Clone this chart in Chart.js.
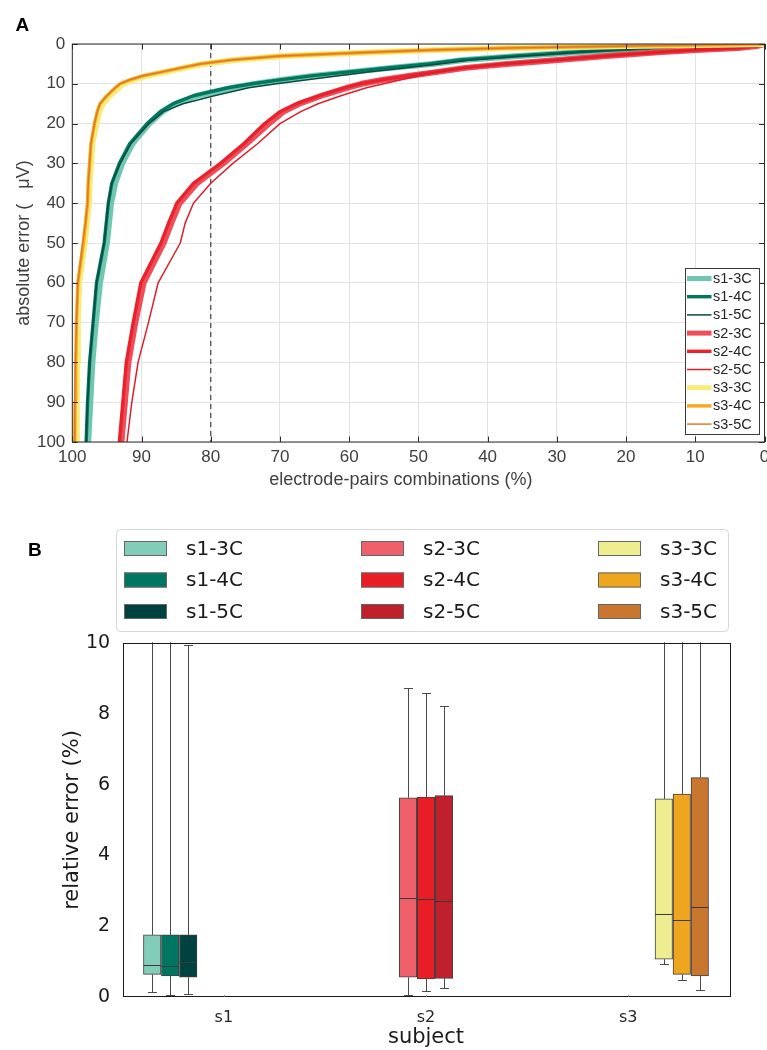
<!DOCTYPE html>
<html><head><meta charset="utf-8">
<script src="https://cdn.jsdelivr.net/npm/chart.js@4.4.0/dist/chart.umd.min.js"></script>
<style>
html,body{margin:0;padding:0;background:#fff;}
#wrap{position:relative;width:767px;height:1050px;overflow:hidden;}
.pane{position:absolute;left:0;}
</style></head><body>
<div id="wrap">
<div class="pane" style="top:0;width:767px;height:500px"><canvas id="ca" width="767" height="500"></canvas></div>
<div class="pane" style="top:500px;width:767px;height:550px"><canvas id="cb" width="767" height="550"></canvas></div>
</div>
<script>
// ---------------- DATA: panel A ----------------
// absolute error levels (µV) at which the % of electrode-pair combinations is read
const errorLevels = [100,90,80,70,60,50,45,40,35,30,25,20,17,15,13,11,10,9,8,7,6,5,4,3,2,1.5,1,0.5,0];
// electrode-pairs combinations (%) for each series at those error levels
const s1_3C = [97.7,97.4,97.1,96.6,96.0,95.0,94.7,94.4,93.8,92.8,91.3,88.9,87.0,85.1,82.0,76.8,73.5,69.5,65.0,59.5,54.0,48.0,43.5,35.5,26.5,21.5,15.5,8,0];
const s1_4C = [98.0,97.8,97.5,97.0,96.5,95.4,95.1,94.8,94.3,93.2,91.7,89.2,87.3,85.4,82.5,77.5,74.0,70.0,65.5,60.0,54.5,48.5,44.0,36.0,27.0,22.0,16.0,8,0];
const s1_5C = [98.0,97.8,97.5,97.0,96.5,95.4,95.1,94.8,94.3,93.1,91.5,88.9,86.8,84.0,79.5,74.5,70.5,66.0,61.5,57.0,52.0,47.0,42.5,35.0,26.5,21.5,15.5,8,0];
const s2_3C = [92.9,92.4,91.9,90.9,89.7,86.8,85.7,84.5,82.0,78.2,74.8,71.6,69.5,67.2,64.0,60.3,58.2,55.0,51.2,47.2,43.2,37.2,29.8,22.8,14.8,9.8,3.8,1,0];
const s2_4C = [93.2,92.7,92.2,91.2,90.1,87.2,86.1,84.9,82.5,78.6,75.2,72.2,70.0,67.6,64.3,60.7,58.5,55.3,51.5,47.5,43.5,37.5,30.0,23.0,15.0,10.0,4.0,1,0];
const s2_5C = [92.1,91.4,90.5,89.0,87.6,84.4,83.7,82.5,80.0,76.8,73.2,70.0,67.0,64.5,61.2,57.5,55.0,52.5,50.0,47.0,43.3,37.5,30.0,23.0,15.0,10.0,4.0,1,0];
const s3_3C = [99.4,99.35,99.3,99.2,99.0,98.2,97.9,97.6,97.5,97.3,97.1,96.5,96.1,95.6,94.6,93.3,92.6,91.2,89.3,86.5,83.8,81.0,76.5,69.5,55.5,47.5,36.5,19.5,0];
const s3_4C = [99.65,99.6,99.5,99.4,99.2,98.4,98.1,97.8,97.7,97.5,97.3,96.8,96.4,96.0,95.0,93.8,93.1,91.7,89.8,87.0,84.3,81.5,77.0,70.0,56.0,48.0,37.0,20.0,0];
const s3_5C = [99.7,99.65,99.55,99.4,99.2,98.5,98.1,97.8,97.7,97.5,97.3,96.8,96.4,96.0,95.0,93.8,93.1,91.7,89.8,87.0,84.3,81.5,77.0,70.0,56.0,48.0,37.0,20.0,0];
const seriesLabelsA = ['s1-3C','s1-4C','s1-5C','s2-3C','s2-4C','s2-5C','s3-3C','s3-4C','s3-5C'];
const seriesValuesA = [s1_3C,s1_4C,s1_5C,s2_3C,s2_4C,s2_5C,s3_3C,s3_4C,s3_5C];
const thresholdPct = 80;           // dashed reference line
const axisTicksA = [0,10,20,30,40,50,60,70,80,90,100];

// ---------------- DATA: panel B ----------------
const subjects = ['s1','s2','s3'];
const configs = ['3C','4C','5C'];
const s1_whiskerLow  = [0.12, 0.04, 0.08];
const s1_q1          = [0.63, 0.585, 0.55];
const s1_median      = [0.90, 0.88, 0.97];
const s1_q3          = [1.75, 1.75, 1.75];
const s1_whiskerHigh = [12.5, 12.5, 9.94];
const s2_whiskerLow  = [0.05, 0.17, 0.24];
const s2_q1          = [0.55, 0.50, 0.52];
const s2_median      = [2.78, 2.76, 2.72];
const s2_q3          = [5.63, 5.65, 5.69];
const s2_whiskerHigh = [8.73, 8.58, 8.22];
const s3_whiskerLow  = [0.93, 0.48, 0.18];
const s3_q1          = [1.06, 0.63, 0.585];
const s3_median      = [2.33, 2.16, 2.53];
const s3_q3          = [5.60, 5.73, 6.20];
const s3_whiskerHigh = [12.9, 13.0, 14.3];
const statsB = {
  s1: {lo: s1_whiskerLow, q1: s1_q1, med: s1_median, q3: s1_q3, hi: s1_whiskerHigh},
  s2: {lo: s2_whiskerLow, q1: s2_q1, med: s2_median, q3: s2_q3, hi: s2_whiskerHigh},
  s3: {lo: s3_whiskerLow, q1: s3_q1, med: s3_median, q3: s3_q3, hi: s3_whiskerHigh}
};

// ---------------- STYLE ----------------
const lineColorsA = ['#70c7b1','#00785f','#0c4a42','#ee4d5a','#e9222b','#dc1f2b','#f6ec78','#f7a81b','#e0792c'];
const lineWidthsA = [6,3.4,1.5,6,3.4,1.5,6,3.4,1.5];
const boxColorsB = ['#82cdb9','#007562','#00423f','#f0606a','#e81e27','#c0202c','#eeed8f','#eea520','#c9762f'];
// box-group placement on the subject axis (axis units)
const groupCenters = [0.735, 2.0, 3.265];
const boxStep = 0.089;

const FA = '"Liberation Sans", Arial, Helvetica, sans-serif';
const FB = '"DejaVu Sans", Verdana, sans-serif';

// ---------------- PANEL A ----------------
const frameA = {
  id: 'frameA',
  afterDatasetsDraw(chart) {
    const {ctx, chartArea: a, scales: {x, y}} = chart;
    ctx.save();
    ctx.strokeStyle = '#2b2b2b';
    ctx.lineWidth = 1;
    ctx.strokeRect(a.left, a.top, a.right - a.left, a.bottom - a.top);
    ctx.beginPath();
    const tl = 5.5;
    axisTicksA.forEach(v => {
      const px = Math.round(x.getPixelForValue(v)) + 0.5;
      ctx.moveTo(px, a.bottom); ctx.lineTo(px, a.bottom - tl);
      ctx.moveTo(px, a.top); ctx.lineTo(px, a.top + tl);
      const py = Math.round(y.getPixelForValue(v)) + 0.5;
      ctx.moveTo(a.left, py); ctx.lineTo(a.left + tl, py);
      ctx.moveTo(a.right, py); ctx.lineTo(a.right - tl, py);
    });
    ctx.stroke();
    ctx.restore();
  },
  afterDraw(chart) {
    const {ctx} = chart;
    ctx.save();
    // panel letter
    ctx.fillStyle = '#000';
    ctx.font = 'bold 19px ' + FA;
    ctx.textBaseline = 'alphabetic';
    ctx.fillText('A', 15.5, 31);
    // legend inside plot (bottom-right)
    const L = 685.5, T = 268.5, R = 759.5, B = 434.5;
    ctx.fillStyle = '#fff';
    ctx.fillRect(L, T, R - L, B - T);
    ctx.strokeStyle = '#3a3a3a';
    ctx.lineWidth = 1;
    ctx.strokeRect(L, T, R - L, B - T);
    ctx.font = '14.5px ' + FA;
    ctx.textBaseline = 'middle';
    let row = 0;
    chart.data.datasets.forEach(ds => {
      if (!ds.label) return;
      const yy = T + 10 + row * 18.2;
      ctx.strokeStyle = ds.borderColor;
      ctx.lineWidth = Math.min(ds.borderWidth, 5);
      ctx.beginPath(); ctx.moveTo(L + 1.5, yy); ctx.lineTo(L + 26, yy); ctx.stroke();
      ctx.fillStyle = '#262626';
      ctx.fillText(ds.label, L + 27.5, yy + 0.5);
      row++;
    });
    ctx.restore();
  }
};

const datasetsA = seriesLabelsA.map((lab, i) => ({
  label: lab,
  data: errorLevels.map((e, k) => ({x: seriesValuesA[i][k], y: e})),
  borderColor: lineColorsA[i],
  backgroundColor: lineColorsA[i],
  borderWidth: lineWidthsA[i],
  pointRadius: 0,
  tension: 0,
  borderJoinStyle: 'round',
  borderCapStyle: 'butt',
  order: 20 - i
}));
datasetsA.push({
  label: '',
  data: [{x: thresholdPct, y: 0}, {x: thresholdPct, y: 100}],
  borderColor: '#4d4d4d',
  borderWidth: 1.3,
  borderDash: [5, 4],
  pointRadius: 0,
  order: 30
});

new Chart(document.getElementById('ca'), {
  type: 'line',
  data: {datasets: datasetsA},
  options: {
    responsive: false, animation: false, devicePixelRatio: 1,
    layout: {padding: {top: 44, right: 2.5, left: 0, bottom: 0}},
    plugins: {legend: {display: false}, tooltip: {enabled: false}},
    scales: {
      x: {
        type: 'linear', reverse: true, min: 0, max: 100,
        afterBuildTicks: s => { s.ticks = axisTicksA.map(v => ({value: v})); },
        afterFit: s => { s.height = 58; },
        grid: {color: '#e3e3e3', lineWidth: 1, drawTicks: false},
        border: {display: false},
        ticks: {color: '#404040', font: {family: FA, size: 17}, padding: 5, maxRotation: 0, autoSkip: false},
        title: {display: true, text: 'electrode-pairs combinations (%)       ', color: '#404040',
                font: {family: FA, size: 18}, padding: {top: 0, bottom: 9}}
      },
      y: {
        type: 'linear', reverse: true, min: 0, max: 100,
        afterBuildTicks: s => { s.ticks = axisTicksA.map(v => ({value: v})); },
        afterFit: s => { s.width = 72.3; },
        grid: {color: '#e3e3e3', lineWidth: 1, drawTicks: false},
        border: {display: false},
        ticks: {color: '#404040', font: {family: FA, size: 17}, padding: 7},
        title: {display: true, text: 'absolute error (   \u03BCV)', color: '#404040',
                font: {family: FA, size: 18}, padding: {top: 13, bottom: 0}}
      }
    }
  },
  plugins: [frameA]
});

// ---------------- PANEL B ----------------
const boxDatasets = [];
subjects.forEach((s, si) => {
  configs.forEach((c, ci) => {
    const k = si * 3 + ci;
    boxDatasets.push({
      label: s + '-' + c,
      data: [{x: groupCenters[si] + (ci - 1) * boxStep, y: [statsB[s].q1[ci], statsB[s].q3[ci]]}],
      stats: {lo: statsB[s].lo[ci], med: statsB[s].med[ci], hi: statsB[s].hi[ci]},
      backgroundColor: boxColorsB[k],
      borderColor: '#404040',
      borderWidth: 1,
      borderSkipped: false,
      barThickness: 17.5
    });
  });
});

const boxPlugin = {
  id: 'boxPlugin',
  beforeDatasetsDraw(chart) {
    const {ctx, chartArea: a, scales: {y}} = chart;
    ctx.save();
    ctx.beginPath(); ctx.rect(a.left, a.top - 1, a.right - a.left, a.bottom - a.top + 1); ctx.clip();
    ctx.strokeStyle = '#4a4a4a';
    ctx.lineWidth = 1;
    chart.data.datasets.forEach((ds, i) => {
      const el = chart.getDatasetMeta(i).data[0];
      const cx = Math.round(el.x) + 0.5;
      const yq1 = y.getPixelForValue(ds.data[0].y[0]);
      const yq3 = y.getPixelForValue(ds.data[0].y[1]);
      const ylo = Math.round(y.getPixelForValue(ds.stats.lo)) + 0.5;
      const yhi = Math.round(y.getPixelForValue(ds.stats.hi)) + 0.5;
      ctx.beginPath();
      ctx.moveTo(cx, yq3); ctx.lineTo(cx, yhi);
      ctx.moveTo(cx, yq1); ctx.lineTo(cx, ylo);
      ctx.moveTo(cx - 4.5, ylo); ctx.lineTo(cx + 4.5, ylo);
      ctx.moveTo(cx - 4.5, yhi); ctx.lineTo(cx + 4.5, yhi);
      ctx.stroke();
    });
    ctx.restore();
  },
  afterDatasetsDraw(chart) {
    const {ctx, chartArea: a, scales: {x, y}} = chart;
    ctx.save();
    ctx.strokeStyle = '#3a3a3a';
    ctx.lineWidth = 1;
    chart.data.datasets.forEach((ds, i) => {
      const el = chart.getDatasetMeta(i).data[0];
      const ym = Math.round(y.getPixelForValue(ds.stats.med)) + 0.5;
      ctx.beginPath();
      ctx.moveTo(el.x - el.width / 2, ym); ctx.lineTo(el.x + el.width / 2, ym);
      ctx.stroke();
    });
    // frame
    ctx.strokeStyle = '#1a1a1a';
    ctx.strokeRect(Math.round(a.left) + 0.5, Math.round(a.top) + 0.5, Math.round(a.right - a.left), Math.round(a.bottom - a.top));
    // tiny subject tick marks
    ctx.strokeStyle = '#999';
    ctx.beginPath();
    subjects.forEach((_, i) => {
      const px = Math.round(x.getPixelForValue(i + 1)) + 0.5;
      ctx.moveTo(px, a.bottom); ctx.lineTo(px, a.bottom - 2);
    });
    ctx.stroke();
    ctx.restore();
  },
  afterDraw(chart) {
    const {ctx} = chart;
    ctx.save();
    ctx.fillStyle = '#000';
    ctx.font = 'bold 19px ' + FA;
    ctx.fillText('B', 28, 56);
    // legend box
    const L = 116.5, T = 29.5, R = 728.5, B = 131.5, r = 4;
    ctx.strokeStyle = '#d6d6d6';
    ctx.lineWidth = 1;
    ctx.beginPath();
    ctx.moveTo(L + r, T); ctx.lineTo(R - r, T); ctx.quadraticCurveTo(R, T, R, T + r);
    ctx.lineTo(R, B - r); ctx.quadraticCurveTo(R, B, R - r, B);
    ctx.lineTo(L + r, B); ctx.quadraticCurveTo(L, B, L, B - r);
    ctx.lineTo(L, T + r); ctx.quadraticCurveTo(L, T, L + r, T);
    ctx.stroke();
    const colX = [124, 361, 598];
    const rowY = [48.5, 80, 111.5];
    ctx.font = '20px ' + FB;
    ctx.textBaseline = 'middle';
    chart.data.datasets.forEach((ds, i) => {
      const col = Math.floor(i / 3), row = i % 3;
      const x0 = colX[col], y0 = rowY[row];
      ctx.fillStyle = ds.backgroundColor;
      ctx.fillRect(x0, y0 - 7.5, 43, 15);
      ctx.strokeStyle = '#666';
      ctx.strokeRect(x0 + 0.5, y0 - 7.5 + 0.5, 42, 14);
      ctx.fillStyle = '#1a1a1a';
      ctx.fillText(ds.label, x0 + 62, y0 + 1);
    });
    ctx.restore();
  }
};

new Chart(document.getElementById('cb'), {
  type: 'bar',
  data: {datasets: boxDatasets},
  options: {
    responsive: false, animation: false, devicePixelRatio: 1,
    layout: {padding: {top: 143.3, right: 37.7, left: 0, bottom: 0}},
    plugins: {legend: {display: false}, tooltip: {enabled: false}},
    datasets: {bar: {grouped: false}},
    scales: {
      x: {
        type: 'linear', min: 0.5, max: 3.5, offset: false,
        afterBuildTicks: s => { s.ticks = subjects.map((_, i) => ({value: i + 1})); },
        afterFit: s => { s.height = 53.3; },
        grid: {display: false, drawTicks: false},
        border: {display: false},
        ticks: {color: '#262626', font: {family: FB, size: 16}, padding: 11.5,
                callback: v => subjects[v - 1]},
        title: {display: true, text: 'subject', color: '#1a1a1a',
                font: {family: FB, size: 21}, padding: {top: 0, bottom: 0}}
      },
      y: {
        type: 'linear', min: 0, max: 10,
        ticks: {stepSize: 2, color: '#1a1a1a', font: {family: FB, size: 19}, padding: 12.5},
        afterFit: s => { s.width = 122.7; },
        grid: {display: false, drawTicks: false},
        border: {display: false},
        title: {display: true, text: 'relative error (%)', color: '#1a1a1a',
                font: {family: FB, size: 21}, padding: {top: 60, bottom: 0}}
      }
    }
  },
  plugins: [boxPlugin]
});
</script>
</body></html>
